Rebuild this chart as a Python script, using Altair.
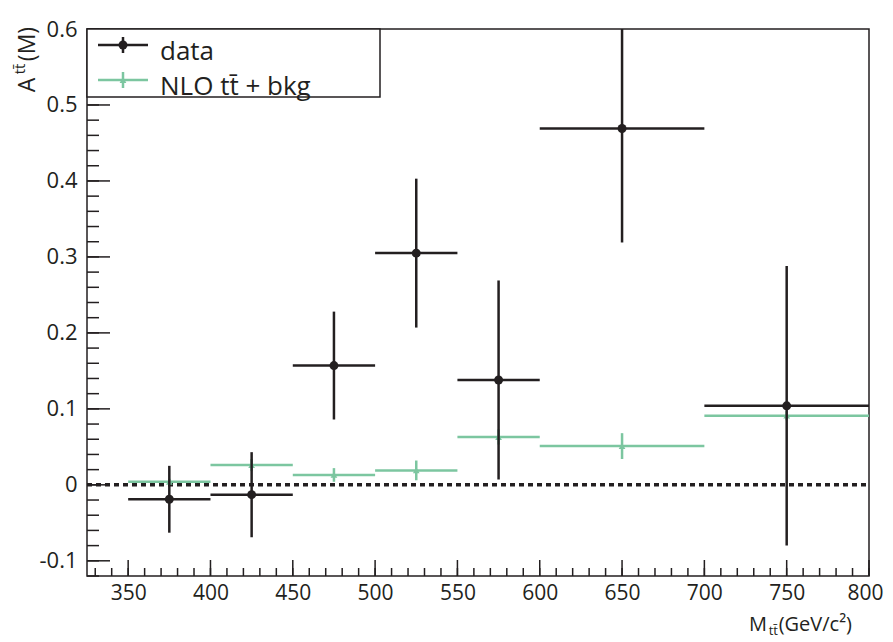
import altair as alt
import pandas as pd

# ---- data ----
bin_lo = [350, 400, 450, 500, 550, 600, 700]
bin_hi = [400, 450, 500, 550, 600, 700, 800]
bin_center = [375, 425, 475, 525, 575, 650, 750]
data_val = [-0.019, -0.013, 0.157, 0.305, 0.138, 0.469, 0.104]
data_err = [0.044, 0.056, 0.071, 0.098, 0.131, 0.150, 0.184]
nlo_val = [0.004, 0.026, 0.013, 0.019, 0.063, 0.051, 0.091]
nlo_err = [0.004, 0.008, 0.009, 0.013, 0.010, 0.017, 0.006]

x_major = [350, 400, 450, 500, 550, 600, 650, 700, 750, 800]
x_minor = list(range(330, 801, 10))
y_major = [-0.1, 0.0, 0.1, 0.2, 0.3, 0.4, 0.5, 0.6]
y_minor = [round(-0.12 + 0.02 * i, 2) for i in range(37)]

X_DOM = [325, 800]
Y_DOM = [-0.12, 0.6]
W, H = 782, 547
FONT = "Open Sans"
INK = "#231f20"
GREEN = "#7cc6a0"

df_data = pd.DataFrame({"lo": bin_lo, "hi": bin_hi, "c": bin_center,
                        "v": data_val, "e": data_err})
df_data["vlo"] = df_data.v - df_data.e
df_data["vhi"] = df_data.v + df_data.e
df_nlo = pd.DataFrame({"lo": bin_lo, "hi": bin_hi, "c": bin_center,
                       "v": nlo_val, "e": nlo_err})
df_nlo["vlo"] = df_nlo.v - df_nlo.e
df_nlo["vhi"] = df_nlo.v + df_nlo.e

xs = alt.Scale(domain=X_DOM, nice=False, zero=False)
ys = alt.Scale(domain=Y_DOM, nice=False, zero=False)

X_AXIS = alt.Axis(values=x_major, ticks=False, domain=False, grid=False,
                  labelFontSize=21, labelFont=FONT, labelColor=INK,
                  labelPadding=6, title=None, labelFlush=False, labelOverlap=False,
                  labelOffset={"condition": {"test": "datum.value == 800", "value": -4}, "value": 0})
Y_AXIS = alt.Axis(values=y_major, ticks=False, domain=False, grid=False,
                  labelFontSize=22, labelFont=FONT, labelColor=INK,
                  labelPadding=10, title=None, labelFlush=False, labelOverlap=False,
                  labelExpr="datum.value == 0 ? '0' : (datum.value < 0 ? '-' : '') + format(abs(datum.value), '.1f')")

X = lambda f: alt.X(f, type="quantitative", scale=xs, axis=X_AXIS)
Y = lambda f: alt.Y(f, type="quantitative", scale=ys, axis=Y_AXIS)

one = pd.DataFrame({"a": [0]})

# inward ticks
xt_major = alt.Chart(pd.DataFrame({"x": x_major})).mark_rule(color=INK, strokeWidth=1.5).encode(
    x=X("x"), y=alt.value(H), y2=alt.value(H - 16))
xt_minor = alt.Chart(pd.DataFrame({"x": x_minor})).mark_rule(color=INK, strokeWidth=1.5).encode(
    x=X("x"), y=alt.value(H), y2=alt.value(H - 8))
yt_major = alt.Chart(pd.DataFrame({"y": y_major})).mark_rule(color=INK, strokeWidth=1.5).encode(
    y=Y("y"), x=alt.value(0), x2=alt.value(23))
yt_minor = alt.Chart(pd.DataFrame({"y": y_minor})).mark_rule(color=INK, strokeWidth=1.5).encode(
    y=Y("y"), x=alt.value(0), x2=alt.value(12))

zero_line = alt.Chart(pd.DataFrame({"y": [0.0]})).mark_rule(color=INK, strokeWidth=3.5, strokeDash=[5, 4]).encode(
    y=Y("y"), x=alt.value(0), x2=alt.value(W))

# NLO series
nlo_h = alt.Chart(df_nlo).mark_rule(color=GREEN, strokeWidth=2.5, clip=True).encode(
    x=X("lo"), x2="hi", y=Y("v"))
nlo_v = alt.Chart(df_nlo).mark_rule(color=GREEN, strokeWidth=2.5, clip=True).encode(
    x=X("c"), y=Y("vlo"), y2="vhi")
nlo_p = alt.Chart(df_nlo).mark_point(shape="triangle-up", filled=True, color=GREEN, size=45,
                                     opacity=1, clip=True).encode(x=X("c"), y=Y("v"))

# data series
dat_h = alt.Chart(df_data).mark_rule(color=INK, strokeWidth=2.5, clip=True).encode(
    x=X("lo"), x2="hi", y=Y("v"))
dat_v = alt.Chart(df_data).mark_rule(color=INK, strokeWidth=2.5, clip=True).encode(
    x=X("c"), y=Y("vlo"), y2="vhi")
dat_p = alt.Chart(df_data).mark_circle(color=INK, size=80, opacity=1, clip=True).encode(
    x=X("c"), y=Y("v"))

# legend box
leg_box = alt.Chart(one).mark_rect(fill="white", stroke=INK, strokeWidth=1.5).encode(
    x=alt.value(0), x2=alt.value(293), y=alt.value(0), y2=alt.value(68))
leg_parts = [
    alt.Chart(one).mark_rule(color=INK, strokeWidth=2.5).encode(
        x=alt.value(11), x2=alt.value(61), y=alt.value(16)),
    alt.Chart(one).mark_rule(color=INK, strokeWidth=2.5).encode(
        x=alt.value(36), y=alt.value(8), y2=alt.value(24)),
    alt.Chart(one).mark_circle(color=INK, size=80, opacity=1).encode(
        x=alt.value(36), y=alt.value(16)),
    alt.Chart(one).mark_rule(color=GREEN, strokeWidth=2.5).encode(
        x=alt.value(11), x2=alt.value(61), y=alt.value(51)),
    alt.Chart(one).mark_rule(color=GREEN, strokeWidth=2.5).encode(
        x=alt.value(36), y=alt.value(43), y2=alt.value(59)),
    alt.Chart(one).mark_point(shape="triangle-up", filled=True, color=GREEN, size=45, opacity=1).encode(
        x=alt.value(36), y=alt.value(51)),
    alt.Chart(one).mark_text(text="data", font=FONT, fontSize=26, color=INK, align="left",
                             baseline="alphabetic").encode(x=alt.value(73), y=alt.value(31)),
    alt.Chart(one).mark_text(text="NLO tt\u0304 + bkg", font=FONT, fontSize=26, color=INK, align="left",
                             baseline="alphabetic").encode(x=alt.value(73), y=alt.value(66)),
]

# axis titles
titles = [
    alt.Chart(one).mark_text(text="A", font=FONT, fontSize=23, color=INK, angle=270,
                             align="center", baseline="middle").encode(x=alt.value(-59), y=alt.value(56)),
    alt.Chart(one).mark_text(text="tt\u0304", font=FONT, fontSize=15, color=INK, angle=270,
                             align="center", baseline="middle").encode(x=alt.value(-67), y=alt.value(40)),
    alt.Chart(one).mark_text(text="(M)", font=FONT, fontSize=23, color=INK, angle=270,
                             align="center", baseline="middle").encode(x=alt.value(-59), y=alt.value(15)),
    alt.Chart(one).mark_text(text="M", font=FONT, fontSize=20, color=INK, align="right",
                             baseline="alphabetic").encode(x=alt.value(680), y=alt.value(602)),
    alt.Chart(one).mark_text(text="tt\u0304", font=FONT, fontSize=13, color=INK, align="right",
                             baseline="alphabetic").encode(x=alt.value(691), y=alt.value(606)),
    alt.Chart(one).mark_text(text="(GeV/c\u00b2)", font=FONT, fontSize=20, color=INK, align="right",
                             baseline="alphabetic").encode(x=alt.value(765), y=alt.value(602)),
]

chart = alt.layer(
    zero_line, nlo_h, nlo_v, nlo_p, dat_h, dat_v, dat_p,
    xt_minor, xt_major, yt_minor, yt_major,
    leg_box, *leg_parts, *titles,
).properties(
    width=W, height=H,
    autosize=alt.AutoSizeParams(type="none"),
    padding={"left": 79, "top": 21, "right": 16, "bottom": 64},
    background="white",
).configure_view(stroke=INK, strokeWidth=1.5)

chart.save("out.html", embed_options={"renderer": "svg", "actions": False})
